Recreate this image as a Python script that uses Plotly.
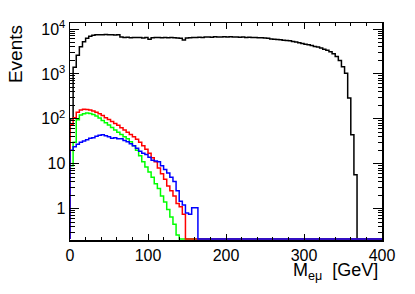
import math
import plotly.graph_objects as go

# ---- data (4 GeV bins, 0-400 GeV) ----
bin_edges = list(range(0, 404, 4))
n_bins = len(bin_edges) - 1

black_vals = [100, 1400, 2600, 4000, 5200, 6200, 6900, 7300, 7400, 7450,
              7400, 7500, 7450, 7400, 7350, 7400,
              6600, 6500, 6550, 6400, 6500, 6450, 6500, 6300, 6450, 5900,
              6400, 6500, 6450, 6400, 6500, 6350, 6450, 6400, 6300, 6250,
              5700,
              6300, 6400, 6500, 6450, 6550, 6500, 6600, 6650, 6550, 6700,
              6650, 6600, 6700, 6650, 6700, 6600, 6650, 6550, 6600, 6500,
              6550, 6450, 6500, 6400, 6350, 6300, 6200,
              6000, 5900, 5850, 5750, 5650, 5550, 5500, 5300, 5150, 4950,
              4750, 4600, 4450, 4300, 4100, 3950, 3750, 3550, 3350, 3100,
              2800, 2450, 2000, 1450, 1040, 290, 44, 5.7]

red_vals = [75, 105, 140, 158, 163, 162, 158, 150, 140, 130,
            118, 106, 96, 87, 79, 72, 63, 56, 50, 45,
            40, 35, 30, 25, 21, 17, 13.5, 11, 8, 6,
            4.5, 3.2, 2.5, 1.9, 1.3, 1.1, 0.75]

green_vals = [9, 30, 95, 122, 130, 134, 132, 125, 115, 104,
              92, 82, 73, 64, 56, 50, 45, 40, 36, 31,
              25, 20, 15, 11, 8.5, 6.5, 5, 3.6, 2.8, 1.9,
              1.4, 0.95, 0.65, 0.45, 0.26]

blue_vals = [20, 24, 27, 30, 32, 34, 37, 38, 41, 43,
             44, 42, 40, 37, 38, 36, 36, 33, 31, 28,
             25, 22, 19, 17, 16, 14, 12, 11.5, 11, 9,
             7.4, 6.2, 5, 4, 2.5, 1.45, 1.2, 0.8, 0.75, 1.05,
             1.05]

x_ticks = [0, 100, 200, 300, 400]
y_ticks = [1, 10, 100, 1000, 10000]
y_ticktext = ["1", "10", "10<sup>2</sup>", "10<sup>3</sup>", "10<sup>4</sup>"]

Y_LOW, Y_HIGH = 0.2, 13600.0
FLOOR = 0.21  # empty bins are drawn along the bottom of the frame


def pad(vals):
    return list(vals) + [0] * (n_bins - len(vals))


def step_trace(vals, color):
    v = [x if x > 0 else FLOOR for x in pad(vals)]
    xs = [bin_edges[0]] + bin_edges[:-1] + [bin_edges[-1], bin_edges[-1]]
    ys = [FLOOR] + v + [v[-1], FLOOR]
    return go.Scatter(x=xs, y=ys, mode="lines", line_shape="hv",
                      line=dict(color=color, width=1.5), hoverinfo="skip")


fig = go.Figure()
fig.add_trace(step_trace(black_vals, "#000000"))
fig.add_trace(step_trace(green_vals, "#00ff00"))
fig.add_trace(step_trace(red_vals, "#ff0000"))
fig.add_trace(step_trace(blue_vals, "#0000ff"))

minor_y = []
for d in range(-1, 5):
    for m in range(2, 10):
        val = m * 10 ** d
        if Y_LOW < val < Y_HIGH:
            minor_y.append(val)

fig.update_layout(
    width=415, height=294,
    margin=dict(l=70, r=33, t=23, b=54),
    paper_bgcolor="white", plot_bgcolor="white",
    showlegend=False,
    font=dict(family="Liberation Sans, Arial, sans-serif", size=16, color="black"),
    xaxis=dict(range=[0, 400], tickmode="array", tickvals=x_ticks,
               ticks="inside", ticklen=6, tickwidth=1, tickcolor="black",
               showline=True, linewidth=1.5, linecolor="black", mirror="ticks",
               showgrid=False, zeroline=False,
               tickfont=dict(size=16),
               minor=dict(dtick=20, tick0=0, ticks="inside", ticklen=3.3,
                          tickcolor="black", showgrid=False)),
    yaxis=dict(type="log", range=[math.log10(Y_LOW), math.log10(Y_HIGH)],
               tickmode="array", tickvals=y_ticks, ticktext=y_ticktext,
               ticks="inside", ticklen=9, tickwidth=1, tickcolor="black",
               showline=True, linewidth=1.5, linecolor="black", mirror="ticks",
               showgrid=False, zeroline=False,
               tickfont=dict(size=16),
               minor=dict(tickmode="array", tickvals=minor_y, ticks="inside",
                          ticklen=4.5, tickcolor="black", showgrid=False)),
    annotations=[
        dict(text="M<sub>eμ</sub>  [GeV]", xref="paper", yref="paper",
             x=0.994, y=-0.145, xanchor="right", yanchor="middle",
             showarrow=False, font=dict(size=18)),
        dict(text="Events", xref="paper", yref="paper",
             x=-0.176, y=1.0, xanchor="center", yanchor="top", textangle=-90,
             showarrow=False, font=dict(size=19)),
    ],
)

fig.write_html("out.html",
               config={"displayModeBar": False, "staticPlot": True},
               post_script="document.body.style.margin='0';"
                           "document.body.style.overflow='hidden';")
